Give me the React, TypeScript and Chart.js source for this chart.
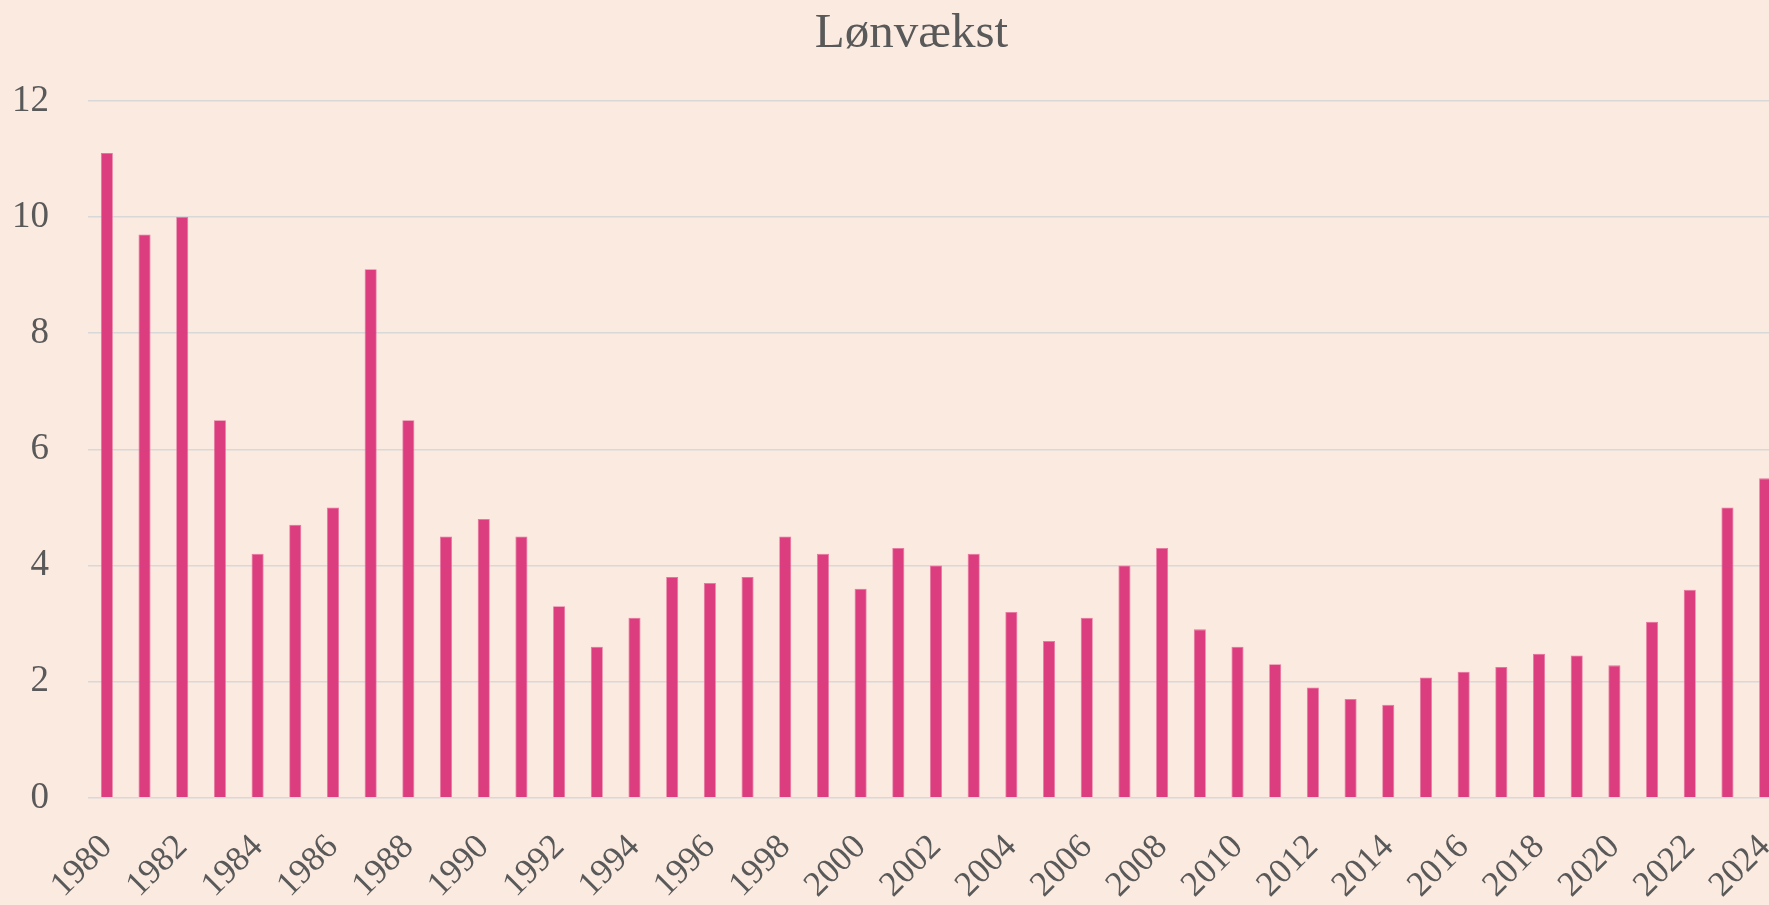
import React, { useEffect, useRef } from "react";
import { Chart, registerables } from "chart.js";

Chart.register(...registerables);

const years: string[] = [
  "1980","1981","1982","1983","1984","1985","1986","1987","1988","1989",
  "1990","1991","1992","1993","1994","1995","1996","1997","1998","1999",
  "2000","2001","2002","2003","2004","2005","2006","2007","2008","2009",
  "2010","2011","2012","2013","2014","2015","2016","2017","2018","2019",
  "2020","2021","2022","2023","2024",
];

const wageGrowth: number[] = [
  11.1, 9.7, 10.0, 6.5, 4.2, 4.7, 5.0, 9.1, 6.5, 4.5,
  4.8, 4.5, 3.3, 2.6, 3.1, 3.8, 3.7, 3.8, 4.5, 4.2,
  3.6, 4.3, 4.0, 4.2, 3.2, 2.7, 3.1, 4.0, 4.3, 2.9,
  2.6, 2.3, 1.9, 1.7, 1.6, 2.07, 2.17, 2.25, 2.48, 2.45,
  2.28, 3.03, 3.58, 5.0, 5.5,
];

const yTicks: number[] = [0, 2, 4, 6, 8, 10, 12];

const TITLE = "Lønvækst";
const BG = "#FBEAE0";
const BAR = "#DC3D7E";
const TEXT = "#595959";
const FONT = "'Liberation Serif', 'Times New Roman', serif";

const titleShift = {
  id: "titleShift",
  afterLayout(chart: any) {
    const tb = chart.titleBlock;
    if (tb) {
      tb.left += 13;
      tb.right += 13;
    }
  },
};

export default function App() {
  const ref = useRef<HTMLCanvasElement | null>(null);

  useEffect(() => {
    document.documentElement.style.overflow = "hidden";
    document.body.style.margin = "0";
    document.body.style.background = BG;
    document.body.style.overflow = "hidden";
    const canvas = ref.current;
    if (!canvas) return;
    const chart = new Chart(canvas, {
      type: "bar",
      data: {
        labels: years,
        datasets: [
          {
            label: TITLE,
            data: wageGrowth,
            backgroundColor: BAR,
            borderColor: "#E7739F",
            borderWidth: 0.8,
            barPercentage: 0.32,
            categoryPercentage: 1,
          },
        ],
      },
      plugins: [titleShift],
      options: {
        animation: false,
        responsive: false,
        maintainAspectRatio: false,
        layout: { padding: { left: 13, right: 39, top: 0, bottom: 0 } },
        plugins: {
          legend: { display: false },
          tooltip: { enabled: false },
          title: {
            display: true,
            text: TITLE,
            color: TEXT,
            font: { family: FONT, size: 49, weight: "normal" },
            padding: { top: 5, bottom: 37 },
          },
        },
        scales: {
          x: {
            grid: { display: false, drawTicks: false },
            border: { display: false },
            afterFit: (axis: any) => {
              axis.paddingLeft = 0;
              axis.paddingRight = 0;
            },
            ticks: {
              autoSkip: false,
              maxRotation: 45,
              minRotation: 45,
              padding: 29,
              color: TEXT,
              font: { family: FONT, size: 35 },
              callback: (_v: any, i: number) => (i % 2 === 0 ? years[i] : ""),
            },
          },
          y: {
            min: yTicks[0],
            max: yTicks[yTicks.length - 1],
            afterBuildTicks: (axis: any) => {
              axis.ticks = yTicks.map((v) => ({ value: v }));
            },
            afterFit: (axis: any) => {
              axis.width = 75;
            },
            grid: { color: "#D9D8D8", lineWidth: 1.6, drawTicks: false },
            border: { display: false },
            ticks: {
              padding: 39,
              color: TEXT,
              font: { family: FONT, size: 37 },
            },
          },
        },
      },
    });
    return () => chart.destroy();
  }, []);

  return (
    <div style={{ width: "100vw", height: "100vh", overflow: "hidden", background: BG, position: "relative" }}>
      <canvas ref={ref} width={1823} height={935} style={{ display: "block", width: 1823, height: 935 }} />
    </div>
  );
}
